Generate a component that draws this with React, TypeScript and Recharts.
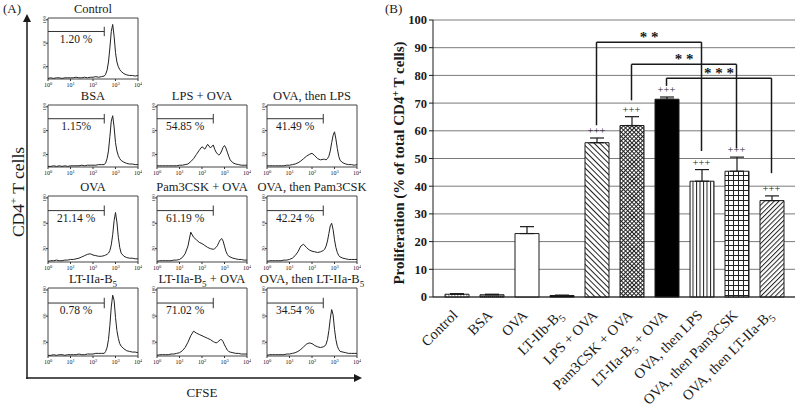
import React from 'react';
import {
    LineChart, Line, XAxis, YAxis, ReferenceLine, ReferenceArea,
    ComposedChart, Bar, Cell, ErrorBar, CartesianGrid,
} from 'recharts';

const SERIF = '"Liberation Serif", "Times New Roman", Times, serif';
const INK = '#1a1a1a';

// ---------- (A) CFSE dilution histograms ----------
// x positions in decades (10^0 .. 10^4), finer around the undivided peak
const decades = [
    0, 0.125, 0.25, 0.375, 0.5, 0.625, 0.75, 0.875, 1, 1.125, 1.25, 1.375, 1.5, 1.625, 1.75, 1.875, 2, 2.125, 2.25, 2.375,
    2.5, 2.5625, 2.625, 2.6875, 2.75, 2.8125, 2.875, 2.9375, 3, 3.0625, 3.125, 3.1875, 3.25,
    3.375, 3.5, 3.625, 3.75, 3.875, 4,
];

const controlCounts = [0, 1, 0, 1, 1, 0, 1, 1, 1, 1, 2, 1, 1, 2, 1, 2, 2, 3, 2, 3, 4, 7, 14, 28, 52, 80, 92, 72, 44, 28, 20, 15, 12, 8, 6, 5, 5, 4, 5];
const bsaCounts = [0, 0, 1, 0, 1, 0, 1, 0, 1, 1, 1, 1, 2, 1, 2, 2, 2, 2, 3, 3, 3, 6, 13, 26, 50, 76, 85, 66, 40, 26, 18, 13, 10, 7, 5, 4, 4, 3, 3];
const lpsOvaCounts = [1, 1, 1, 1, 1, 1, 1, 1, 2, 2, 3, 4, 8, 13, 20, 27, 33, 29, 37, 31, 36, 29, 24, 21, 19, 21, 26, 32, 35, 31, 24, 17, 11, 6, 4, 3, 2, 2, 2];
const ovaThenLpsCounts = [1, 1, 1, 1, 1, 1, 1, 2, 2, 3, 4, 6, 9, 13, 17, 20, 22, 18, 13, 11, 12, 12, 11, 13, 17, 26, 40, 52, 58, 46, 30, 17, 10, 6, 4, 3, 3, 2, 3];
const ovaCounts = [0, 1, 1, 2, 1, 1, 2, 2, 3, 3, 4, 5, 7, 9, 11, 12, 10, 9, 8, 8, 9, 10, 11, 13, 17, 26, 42, 64, 77, 62, 38, 22, 13, 8, 6, 5, 5, 4, 4];
const pamOvaCounts = [0, 1, 1, 1, 1, 1, 2, 2, 3, 6, 12, 24, 46, 38, 34, 30, 28, 25, 22, 20, 19, 20, 22, 25, 30, 34, 36, 32, 24, 16, 11, 8, 7, 5, 4, 3, 3, 2, 2];
const ovaThenPamCounts = [0, 1, 1, 1, 1, 1, 2, 2, 3, 5, 9, 15, 24, 27, 22, 18, 16, 15, 14, 15, 17, 19, 24, 32, 44, 56, 60, 50, 34, 22, 14, 9, 7, 5, 4, 3, 3, 3, 3];
const ltCounts = [0, 0, 1, 0, 1, 1, 0, 1, 1, 1, 1, 2, 1, 1, 2, 2, 2, 3, 3, 3, 3, 6, 12, 24, 46, 74, 92, 84, 58, 38, 26, 18, 14, 10, 7, 6, 5, 5, 4];
const ltOvaCounts = [0, 1, 1, 1, 1, 2, 2, 3, 4, 7, 12, 20, 30, 37, 34, 32, 30, 28, 26, 24, 21, 20, 19, 20, 22, 24, 24, 21, 16, 12, 8, 6, 5, 4, 3, 3, 2, 2, 2];
const ovaThenLtCounts = [0, 1, 1, 1, 1, 1, 1, 2, 2, 3, 4, 6, 9, 13, 17, 19, 18, 15, 13, 12, 13, 14, 17, 24, 38, 56, 70, 62, 40, 24, 14, 9, 6, 5, 4, 3, 3, 3, 3];

const histTitles = [
    'Control', 'BSA', 'LPS + OVA', 'OVA, then LPS', 'OVA', 'Pam3CSK + OVA',
    'OVA, then Pam3CSK', 'LT-IIa-B5', 'LT-IIa-B5 + OVA', 'OVA, then LT-IIa-B5',
];
const histPercents = ['1.20 %', '1.15%', '54.85 %', '41.49 %', '21.14 %', '61.19 %', '42.24 %', '0.78 %', '71.02 %', '34.54 %'];
const histCounts = [
    controlCounts, bsaCounts, lpsOvaCounts, ovaThenLpsCounts, ovaCounts, pamOvaCounts,
    ovaThenPamCounts, ltCounts, ltOvaCounts, ovaThenLtCounts,
];
const histRows = [0, 1, 1, 1, 2, 2, 2, 3, 3, 3];
const histCols = [0, 0, 1, 2, 0, 1, 2, 0, 1, 2];
const GATE_END = 2.5; // proliferation gate edge, in decades

// layout of the small panels
const colLeft = [48, 157, 267];
const rowTop = [18, 105, 196, 288];
const rowHeight = [61, 62, 66, 68];
const BOX_W = 90;

// ---------- (B) proliferation bar chart ----------
const groups = [
    'Control', 'BSA', 'OVA', 'LT-IIb-B5', 'LPS + OVA', 'Pam3CSK + OVA',
    'LT-IIa-B5 + OVA', 'OVA, then LPS', 'OVA, then Pam3CSK', 'OVA, then LT-IIa-B5',
];
const proliferation = [1.0, 0.8, 22.9, 0.55, 55.7, 61.9, 71.4, 41.8, 45.4, 34.8];
const sem = [0.2, 0.2, 2.5, 0.1, 1.7, 3.2, 0.8, 4.2, 5.1, 1.7];
const vsMedium = ['', '', '', '', '+++', '+++', '+++', '+++', '+++', '+++'];

const bracketFrom = ['LPS + OVA', 'Pam3CSK + OVA', 'LT-IIa-B5 + OVA'];
const bracketTo = ['OVA, then LPS', 'OVA, then Pam3CSK', 'OVA, then LT-IIa-B5'];
const bracketTop = [92, 84, 79];
const bracketFromFoot = [62, 71, 76.2];
const bracketToFoot = [52.7, 53.7, 44.7];
const bracketStars = ['* *', '* *', '* * *'];

const barFills = [
    'url(#fCtrl)', 'url(#fBsa)', '#ffffff', '#000000', 'url(#fBack)',
    'url(#fCross)', '#000000', 'url(#fVert)', 'url(#fGrid)', 'url(#fFwd)',
];

const barRows = groups.map((g, i) => ({
    group: g,
    value: proliferation[i],
    err: [0, sem[i]],
    mark: vsMedium[i] ? proliferation[i] + sem[i] : null,
    plus: vsMedium[i],
}));

// "B5" is written with a subscript 5
const subText = (s: string, size: number) => {
    const i = s.indexOf('B5');
    if (i < 0) return s;
    const d = size * 0.28;
    const rest = s.slice(i + 2);
    const parts: any[] = [s.slice(0, i + 1), <tspan key="s" fontSize={size * 0.72} dy={d}>5</tspan>];
    if (rest) parts.push(<tspan key="r" dy={-d}>{rest}</tspan>);
    return parts;
};

const DecadeTick = ({ x, y, payload }: any) => (
    <text x={x} y={y + 5} textAnchor="middle" fontSize={6} fontFamily={SERIF} fill={INK}>
        10<tspan dy={-2.5} fontSize={4.5}>{payload.value}</tspan>
    </text>
);

const CountTick = ({ x, y, payload }: any) => (
    <text x={x + 1} y={y} transform={`rotate(-90 ${x + 1} ${y})`} textAnchor="middle" fontSize={5} fontFamily={SERIF} fill={INK}>
        {payload.value}
    </text>
);

const Histogram = ({ counts, pct, left, top, height }: any) => {
    const data = decades.map((d, i) => ({ d, n: counts[i] }));
    return (
        <div style={{ position: 'absolute', left: left - 14, top: top - 14 }}>
            <LineChart width={BOX_W + 18} height={height + 26} data={data} margin={{ top: 14, right: 4, left: 0, bottom: 0 }}>
                <XAxis dataKey="d" type="number" domain={[0, 4]} ticks={[0, 1, 2, 3, 4]} height={12}
                    tick={<DecadeTick />} tickSize={2} tickMargin={1} axisLine={false} tickLine={{ stroke: '#333' }} />
                <YAxis type="number" domain={[-1, 103]} ticks={[0, 20, 40, 60, 80, 100]} width={14}
                    tick={<CountTick />} tickSize={2} tickMargin={1} axisLine={false} tickLine={{ stroke: '#333' }} />
                <ReferenceArea x1={0} x2={4} y1={-1} y2={103} fill="none" stroke="#444" strokeWidth={1} ifOverflow="visible" />
                <ReferenceLine segment={[{ x: 0, y: 80 }, { x: GATE_END, y: 80 }]} stroke="#333" ifOverflow="visible"
                    label={{ value: pct, position: 'bottom', offset: 3, fontSize: 11.5, fontFamily: SERIF, fill: INK }} />
                <ReferenceLine segment={[{ x: GATE_END, y: 72 }, { x: GATE_END, y: 88 }]} stroke="#333" ifOverflow="visible" />
                <Line dataKey="n" type="linear" stroke="#222" strokeWidth={1} dot={false} isAnimationActive={false} />
            </LineChart>
        </div>
    );
};

const GroupTick = ({ x, y, payload }: any) => {
    const ax = x + 2;
    const ay = y + 11;
    return (
        <text x={ax} y={ay} transform={`rotate(-45 ${ax} ${ay})`} textAnchor="end" fontSize={14.5} fontFamily={SERIF} fill={INK}>
            {subText(payload.value, 14.5)}
        </text>
    );
};

const renderPlus = (p: any) => {
    if (!p.payload || !p.payload.plus || p.cy == null) return <g key={`p${p.index}`} />;
    return (
        <text key={`p${p.index}`} x={p.cx} y={p.cy - 4} textAnchor="middle" fontSize={10.5} fontFamily={SERIF} fill={INK}>
            {p.payload.plus}
        </text>
    );
};

export default function App() {
    return (
        <div style={{ position: 'absolute', left: 0, top: 0, width: 800, height: 410, background: '#fff', overflow: 'hidden' }}>
            {histCounts.map((c, i) => (
                <Histogram key={i} counts={c} pct={histPercents[i]}
                    left={colLeft[histCols[i]]} top={rowTop[histRows[i]]} height={rowHeight[histRows[i]]} />
            ))}

            <div style={{ position: 'absolute', left: 388, top: 0 }}>
                <ComposedChart width={412} height={410} data={barRows} margin={{ top: 20, right: 5, left: 0, bottom: 0 }}>
                    <defs>
                        <pattern id="fCtrl" width="3" height="3" patternUnits="userSpaceOnUse">
                            <rect width="3" height="3" fill="#fff" />
                            <rect width="1.5" height="3" fill="#aaa" />
                        </pattern>
                        <pattern id="fBsa" width="2" height="2" patternUnits="userSpaceOnUse">
                            <rect width="2" height="2" fill="#999" />
                            <rect width="1" height="1" fill="#333" />
                        </pattern>
                        <pattern id="fBack" width="4" height="4" patternUnits="userSpaceOnUse" patternTransform="rotate(-45)">
                            <rect width="4" height="4" fill="#fff" />
                            <line x1="0.5" y1="0" x2="0.5" y2="4" stroke="#222" strokeWidth="1" />
                        </pattern>
                        <pattern id="fFwd" width="3.4" height="4" patternUnits="userSpaceOnUse" patternTransform="rotate(45)">
                            <rect width="3.4" height="4" fill="#fff" />
                            <line x1="0.5" y1="0" x2="0.5" y2="4" stroke="#222" strokeWidth="1" />
                        </pattern>
                        <pattern id="fCross" width="3" height="3" patternUnits="userSpaceOnUse" patternTransform="rotate(45)">
                            <rect width="3" height="3" fill="#fff" />
                            <line x1="0.5" y1="0" x2="0.5" y2="3" stroke="#222" strokeWidth="1" />
                            <line x1="0" y1="0.5" x2="3" y2="0.5" stroke="#222" strokeWidth="1" />
                        </pattern>
                        <pattern id="fVert" width="3.5" height="4" patternUnits="userSpaceOnUse">
                            <rect width="3.5" height="4" fill="#fff" />
                            <line x1="0.5" y1="0" x2="0.5" y2="4" stroke="#222" strokeWidth="1" />
                        </pattern>
                        <pattern id="fGrid" width="5" height="5" patternUnits="userSpaceOnUse">
                            <rect width="5" height="5" fill="#fff" />
                            <path d="M0 0.5H5M0.5 0V5" stroke="#222" strokeWidth="1" />
                        </pattern>
                    </defs>
                    <CartesianGrid vertical={false} stroke="#7a7a7a" />
                    <XAxis dataKey="group" type="category" height={113} interval={0} tickLine={false}
                        axisLine={{ stroke: INK }} padding={{ left: 6, right: 6 }} tick={<GroupTick />} />
                    <YAxis domain={[0, 100]} ticks={[0, 10, 20, 30, 40, 50, 60, 70, 80, 90, 100]} width={45} tickSize={4}
                        axisLine={{ stroke: INK }} tickLine={{ stroke: INK }}
                        tick={{ fontFamily: SERIF, fontSize: 12.5, fontWeight: 'bold', fill: INK }} />
                    <YAxis yAxisId="frame" orientation="right" domain={[0, 100]} width={0} tick={false} tickLine={false}
                        axisLine={{ stroke: '#777' }} />
                    <Bar dataKey="value" barSize={24} stroke={INK} strokeWidth={1} isAnimationActive={false}>
                        {barFills.map((f, i) => <Cell key={i} fill={f} />)}
                        <ErrorBar dataKey="err" width={7} stroke={INK} strokeWidth={1.2} direction="y" />
                    </Bar>
                    <Line dataKey="mark" stroke="none" dot={renderPlus} activeDot={false} isAnimationActive={false} />
                    {bracketFrom.map((from, i) => (
                        <ReferenceLine key={`l${i}`} segment={[{ x: from, y: bracketFromFoot[i] }, { x: from, y: bracketTop[i] }]}
                            stroke={INK} strokeWidth={1.5} ifOverflow="visible" />
                    ))}
                    {bracketFrom.map((from, i) => (
                        <ReferenceLine key={`t${i}`} segment={[{ x: from, y: bracketTop[i] }, { x: bracketTo[i], y: bracketTop[i] }]}
                            stroke={INK} strokeWidth={1.5} ifOverflow="visible"
                            label={{ value: bracketStars[i], position: 'top', offset: 0, fontSize: 15, fontWeight: 'bold', fontFamily: SERIF, fill: INK }} />
                    ))}
                    {bracketTo.map((to, i) => (
                        <ReferenceLine key={`r${i}`} segment={[{ x: to, y: bracketTop[i] }, { x: to, y: bracketToFoot[i] }]}
                            stroke={INK} strokeWidth={1.5} ifOverflow="visible" />
                    ))}
                </ComposedChart>
            </div>

            <svg width={800} height={410} style={{ position: 'absolute', left: 0, top: 0, pointerEvents: 'none' }}
                fontFamily={SERIF} fill={INK}>
                <defs>
                    <marker id="arrowHead" markerWidth="8" markerHeight="8" refX="6" refY="4" orient="auto" markerUnits="userSpaceOnUse">
                        <path d="M0,0 L8,4 L0,8 Z" fill={INK} />
                    </marker>
                </defs>
                <text x={3} y={13} fontSize={13}>(A)</text>
                <text x={385} y={13} fontSize={13}>(B)</text>
                {histTitles.map((t, i) => (
                    <text key={i} x={colLeft[histCols[i]] + BOX_W / 2} y={rowTop[histRows[i]] - 5} textAnchor="middle" fontSize={12.5}>
                        {subText(t, 12.5)}
                    </text>
                ))}
                <line x1={27} y1={379} x2={27} y2={16} stroke={INK} strokeWidth={1.5} markerEnd="url(#arrowHead)" />
                <line x1={26.3} y1={378} x2={360} y2={378} stroke={INK} strokeWidth={1.5} markerEnd="url(#arrowHead)" />
                <text x={202} y={397} textAnchor="middle" fontSize={13}>CFSE</text>
                <text x={24} y={192} transform="rotate(-90 24 192)" textAnchor="middle" fontSize={17.5}>
                    CD4<tspan dy={-7} fontSize={11}>+</tspan><tspan dy={7}> T cells</tspan>
                </text>
                <text x={404} y={163} transform="rotate(-90 404 163)" textAnchor="middle" fontSize={15} fontWeight="bold">
                    Proliferation (% of total CD4<tspan dy={-5.5} fontSize={10}>+</tspan><tspan dy={5.5}> T cells)</tspan>
                </text>
            </svg>
        </div>
    );
}
